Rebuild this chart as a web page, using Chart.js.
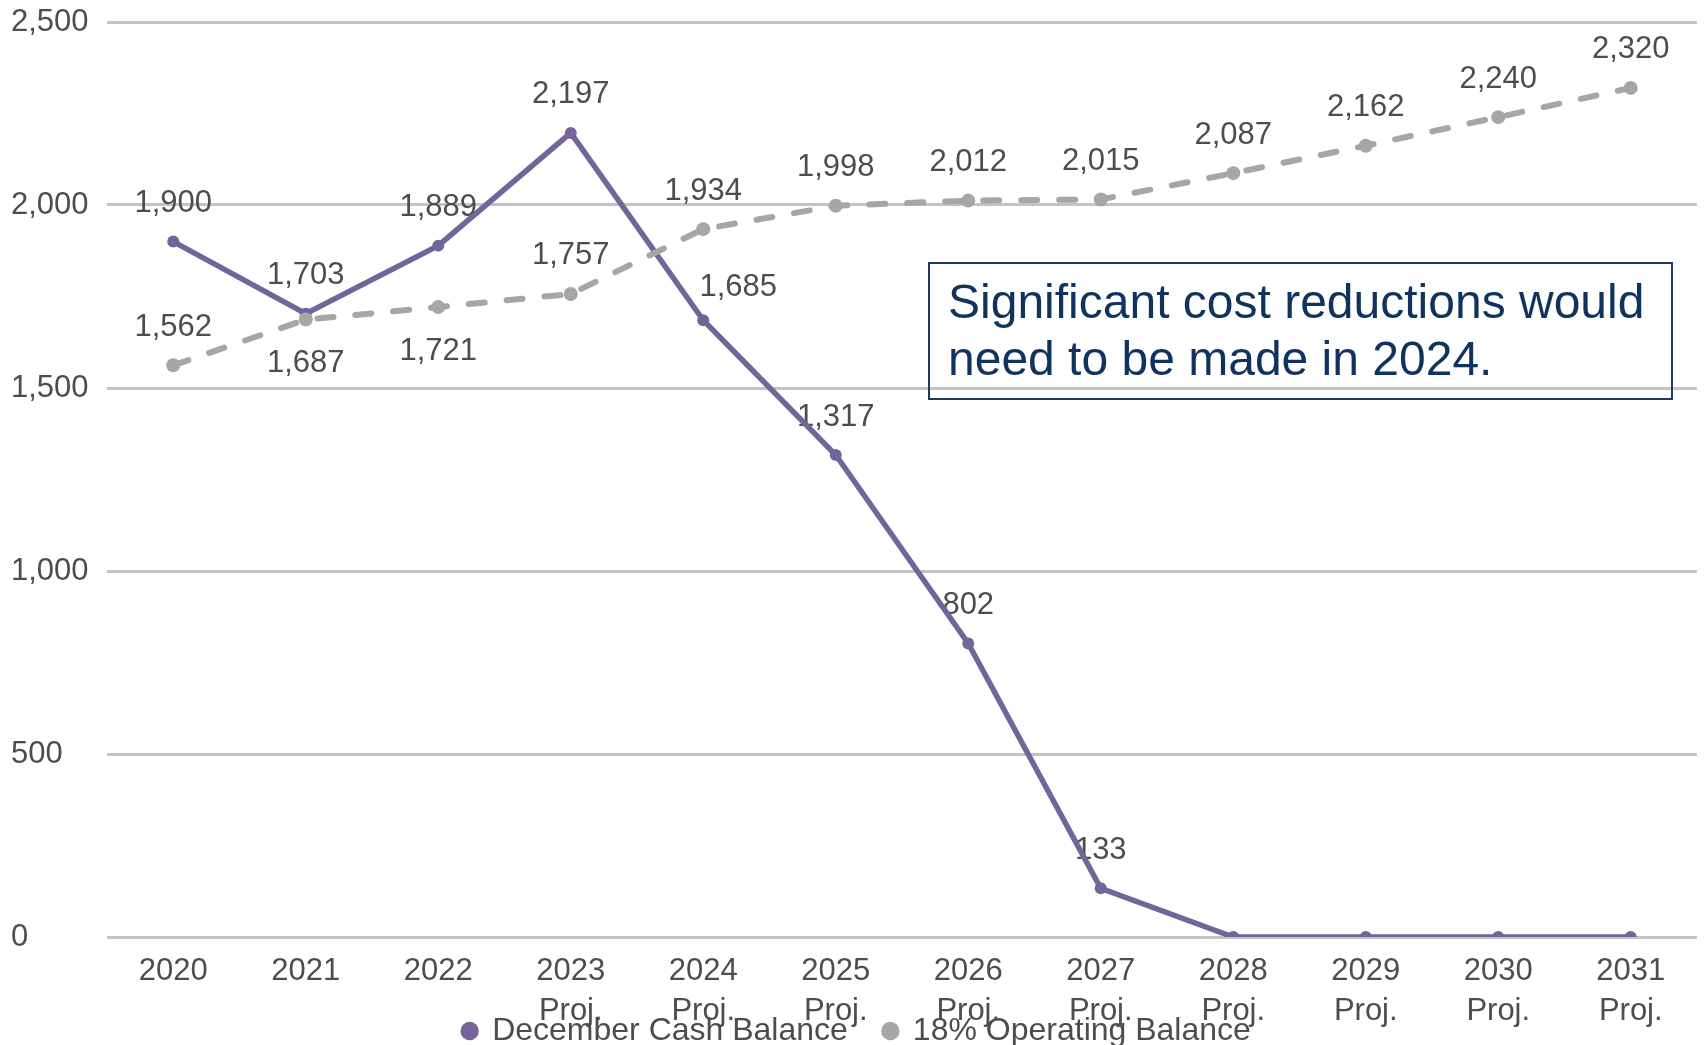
<!DOCTYPE html>
<html>
<head>
<meta charset="utf-8">
<script src="https://cdn.jsdelivr.net/npm/chart.js@4.4.1/dist/chart.umd.min.js"></script>
<style>
  html, body { margin: 0; padding: 0; background: #ffffff; overflow: hidden; }
  #wrap { width: 1704px; height: 1045px; }
</style>
</head>
<body>
<div id="wrap"><canvas id="cashChart" width="1704" height="1045"></canvas></div>
<script>
// Year categories (projected years carry a second line)
const years = [
  '2020', '2021', '2022',
  ['2023', 'Proj.'], ['2024', 'Proj.'], ['2025', 'Proj.'], ['2026', 'Proj.'],
  ['2027', 'Proj.'], ['2028', 'Proj.'], ['2029', 'Proj.'], ['2030', 'Proj.'], ['2031', 'Proj.']
];

// December cash balance
const cashBalance = [1900, 1703, 1889, 2197, 1685, 1317, 802, 133, 0, 0, 0, 0];

// 18% operating balance target
const operatingBalance = [1562, 1687, 1721, 1757, 1934, 1998, 2012, 2015, 2087, 2162, 2240, 2320];

// Value axis
const yMin = 0;
const yMax = 2500;
const yStep = 500;

const noteLines = ['Significant cost reductions would', 'need to be made in 2024.'];

const FONT = "'Liberation Sans', Arial, sans-serif";
const TEXT_GREY = '#4d4d4d';

// Value labels next to each point (zero balances are left unlabelled)
const valueLabels = {
  id: 'valueLabels',
  beforeDatasetsDraw(chart) {
    const ctx = chart.ctx;
    ctx.save();
    ctx.font = '31px ' + FONT;
    ctx.fillStyle = TEXT_GREY;
    ctx.textAlign = 'center';
    ctx.textBaseline = 'middle';
    chart.data.datasets.forEach((ds, i) => {
      const meta = chart.getDatasetMeta(i);
      meta.data.forEach((pt, j) => {
        const v = ds.data[j];
        if (!v) return;
        const place = (ds.labelPlacement && ds.labelPlacement[j]) || 'above';
        let x = pt.x, y = pt.y;
        if (place === 'above') { y -= 38; }
        else if (place === 'below') { y += 44; }
        else if (place === 'aboveRight') { x += 35; y -= 33; }
        ctx.fillText(v.toLocaleString('en-US'), x, y);
      });
    });
    ctx.restore();
  }
};

// Boxed note in the upper right of the plot
const noteBox = {
  id: 'noteBox',
  afterDraw(chart) {
    const ctx = chart.ctx;
    ctx.save();
    ctx.strokeStyle = '#1f3a5f';
    ctx.lineWidth = 2;
    ctx.strokeRect(929, 263, 743, 136);
    ctx.font = '48px ' + FONT;
    ctx.fillStyle = '#0f335e';
    ctx.textAlign = 'left';
    ctx.textBaseline = 'alphabetic';
    ctx.fillText(noteLines[0], 948, 318);
    ctx.fillText(noteLines[1], 948, 375);
    ctx.restore();
  }
};

new Chart(document.getElementById('cashChart'), {
  type: 'line',
  data: {
    labels: years,
    datasets: [
      {
        label: 'December Cash Balance',
        data: cashBalance,
        borderColor: '#72659a',
        backgroundColor: '#72659a',
        borderWidth: 5.5,
        pointRadius: 6,
        pointHoverRadius: 6,
        pointBorderWidth: 0,
        pointStyle: 'circle',
        tension: 0,
        order: 2,
        labelPlacement: ['above', 'above', 'above', 'above', 'aboveRight', 'above', 'above', 'above', 'above', 'above', 'above', 'above']
      },
      {
        label: '18% Operating Balance',
        data: operatingBalance,
        borderColor: '#a6a6a6',
        backgroundColor: '#a6a6a6',
        borderWidth: 6,
        borderDash: [16, 22],
        borderCapStyle: 'round',
        pointRadius: 7,
        pointHoverRadius: 7,
        pointBorderWidth: 0,
        pointStyle: 'circle',
        tension: 0,
        order: 1,
        labelPlacement: ['above', 'below', 'below', 'above', 'above', 'above', 'above', 'above', 'above', 'above', 'above', 'above']
      }
    ]
  },
  options: {
    responsive: false,
    animation: false,
    events: [],
    layout: { padding: { left: 11, right: 1, top: 22, bottom: -12 } },
    plugins: {
      legend: {
        position: 'bottom',
        labels: {
          usePointStyle: true,
          boxWidth: 13,
          boxHeight: 13,
          padding: 36,
          color: TEXT_GREY,
          font: { family: FONT, size: 32 },
          sort: (a, b) => a.datasetIndex - b.datasetIndex
        }
      },
      tooltip: { enabled: false }
    },
    scales: {
      x: {
        offset: true,
        grid: { display: false, drawTicks: false, offset: true },
        border: { display: false },
        ticks: {
          color: TEXT_GREY,
          font: { family: FONT, size: 31, lineHeight: 1.3 },
          padding: 14,
          maxRotation: 0,
          autoSkip: false
        },
        afterFit(scale) {
          // the two-line year labels run down into the legend band
          scale.height = 42;
          scale._computeLabelArea = () => null;
        }
      },
      y: {
        min: yMin,
        max: yMax,
        grid: { color: '#c4c4c4', lineWidth: 3, drawTicks: false },
        border: { display: false },
        ticks: {
          stepSize: yStep,
          color: TEXT_GREY,
          font: { family: FONT, size: 31 },
          crossAlign: 'far',
          padding: 0
        },
        afterFit(scale) { scale.width = 96; }
      }
    }
  },
  plugins: [valueLabels, noteBox]
});
</script>
</body>
</html>
